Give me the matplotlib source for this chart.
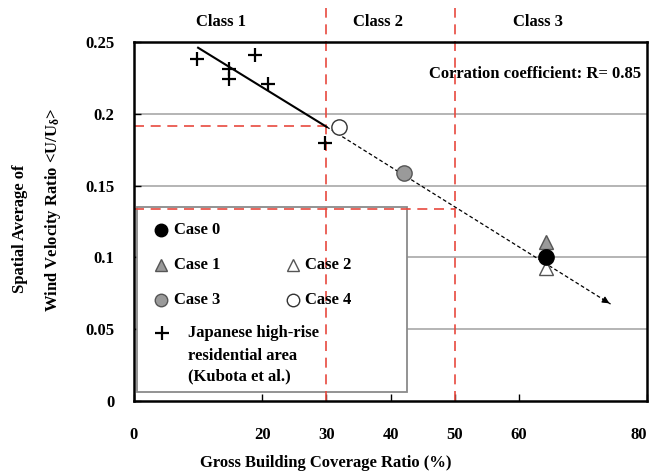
import matplotlib.pyplot as plt
from matplotlib.patches import Rectangle

plt.rcParams['font.family'] = ['Liberation Serif', 'DejaVu Serif']
plt.rcParams['font.weight'] = 'bold'
plt.rcParams['mathtext.fontset'] = 'custom'
plt.rcParams['mathtext.rm'] = 'Liberation Serif:bold'
plt.rcParams['mathtext.bf'] = 'Liberation Serif:bold'
plt.rcParams['mathtext.it'] = 'Liberation Serif:bold'

# Japanese high-rise residential area (Kubota et al.)
kubota_x = [9.9, 14.8, 14.8, 18.9, 20.9, 29.8]
kubota_y = [0.238, 0.231, 0.224, 0.241, 0.2205, 0.180]

# simulated cases: coverage ratio (%), wind velocity ratio
case_names = ['Case 0', 'Case 1', 'Case 2', 'Case 3', 'Case 4']
case_x = [64.2, 64.2, 64.2, 42.1, 31.9]
case_y = [0.1005, 0.111, 0.0924, 0.159, 0.191]

# regression line: solid over the measured range, dashed extrapolation
fit_x = [10, 30, 74.5]
fit_y = [0.246, 0.191, 0.067]

# class boundaries and the matching velocity ratios
class_bounds = [30, 50]
bound_ratios = [0.1915, 0.134]
class_labels = ['Class 1', 'Class 2', 'Class 3']
class_label_x = [13.6, 38.1, 63.0]

x_ticks = [0, 20, 30, 40, 50, 60, 80]
y_ticks = [0, 0.05, 0.1, 0.15, 0.2, 0.25]
y_tick_labels = ['0', '0.05', '0.1', '0.15', '0.2', '0.25']

red = '#e8493e'
grey_line = '#a8a8a8'

fig = plt.figure(figsize=(6.51, 4.75), dpi=100)
ax = fig.add_axes([0.2058, 0.1558, 0.7881, 0.7558])
ax.set_xlim(0, 80)
ax.set_ylim(0, 0.25)

# grey horizontal grid
for yv in y_ticks[1:-1]:
    ax.axhline(yv, color=grey_line, lw=1.2, zorder=1)

# legend box (hand made, sits over the grid but under the red guides)
ax.add_patch(Rectangle((0.006, 0.025), 0.527, 0.515, transform=ax.transAxes,
                       facecolor='white', edgecolor='#8a8a8a', lw=1.3, zorder=2))

# red class guides
dash = (0, (6, 4))
for xb in class_bounds:
    ax.plot([xb, xb], [0, 0.2735], color=red, lw=1.2, ls=dash, clip_on=False, zorder=3)
for xb, yb in zip(class_bounds, bound_ratios):
    ax.plot([0, xb], [yb, yb], color=red, lw=1.2, ls=dash, zorder=3)

for lab, xl in zip(class_labels, class_label_x):
    ax.text(xl, 0.2640, lab, ha='center', va='center', fontsize=12, clip_on=False)

# regression line
ax.plot(fit_x[:2], fit_y[:2], color='black', lw=1.5, zorder=4)
ax.plot(fit_x[1:], fit_y[1:], color='black', lw=0.9, ls=(0, (3, 2)), zorder=4)
tail = (fit_x[2] - 0.04 * (fit_x[2] - fit_x[1]), fit_y[2] - 0.04 * (fit_y[2] - fit_y[1]))
ax.annotate('', xy=(fit_x[2], fit_y[2]), xytext=tail,
            arrowprops=dict(arrowstyle='-|>', color='black', lw=0.9, mutation_scale=10), zorder=4)

# data markers
ax.plot(kubota_x, kubota_y, ls='none', marker='+', ms=10, mew=1.6, color='black', zorder=5)
styles = [
    dict(marker='o', mfc='black', mec='black', ms=11),
    dict(marker='^', mfc='#9a9a9a', mec='#555555', ms=10),
    dict(marker='^', mfc='white', mec='#555555', ms=10),
    dict(marker='o', mfc='#9a9a9a', mec='#555555', ms=11),
    dict(marker='o', mfc='white', mec='#333333', ms=11),
]
draw_order = [1, 2, 0, 3, 4]
for i in draw_order:
    ax.plot(case_x[i], case_y[i], ls='none', mew=1.0, zorder=6, **styles[i])

# legend entries
tr = ax.transAxes
legend_pos = [(0.053, 0.476), (0.053, 0.379), (0.309, 0.379), (0.053, 0.281), (0.309, 0.281)]
for i, (lx, ly) in enumerate(legend_pos):
    st = dict(styles[i])
    st['ms'] = st['ms'] - 2
    ax.plot(lx, ly, transform=tr, ls='none', mew=1.0, zorder=6, **st)
    ax.text(lx + 0.025, ly, case_names[i], transform=tr, ha='left', va='center',
            fontsize=12, zorder=6)
ax.plot(0.055, 0.189, transform=tr, ls='none', marker='+', ms=10, mew=1.6,
        color='black', zorder=6)
ax.text(0.105, 0.189, 'Japanese high-rise', transform=tr, ha='left', va='center', fontsize=12, zorder=6)
ax.text(0.105, 0.125, 'residential area', transform=tr, ha='left', va='center', fontsize=12, zorder=6)
ax.text(0.105, 0.068, '(Kubota et al.)', transform=tr, ha='left', va='center', fontsize=12, zorder=6)

ax.text(0.988, 0.912, 'Corration coefficient: R= 0.85', transform=tr, ha='right',
        va='center', fontsize=12, zorder=6)

# axes styling
for sp in ax.spines.values():
    sp.set_linewidth(1.8)
    sp.set_zorder(7)
ax.set_xticks(x_ticks)
ax.set_xticklabels([str(v) for v in x_ticks], fontsize=12)
ax.set_yticks(y_ticks)
ax.set_yticklabels(y_tick_labels, fontsize=12)
ax.tick_params(axis='x', direction='in', length=5, width=1, pad=19)
ax.tick_params(axis='y', direction='in', length=5, width=1, pad=14)
ax.get_xticklabels()[-1].set_ha('right')
ax.get_xticklabels()[-1].set_x(80.6)

fig.text(325.5 / 651, 1 - 463 / 475, 'Gross Building Coverage Ratio (%)',
         ha='center', va='center', fontsize=12)
fig.text(20 / 651, 1 - 229 / 475, 'Spatial Average of', rotation=90,
         ha='center', va='center', fontsize=12)
fig.text(53 / 651, 1 - 210 / 475, r'Wind Velocity Ratio <U/U$_{\delta}$>', rotation=90,
         ha='center', va='center', fontsize=12)

fig.savefig('out.png', dpi=100)
